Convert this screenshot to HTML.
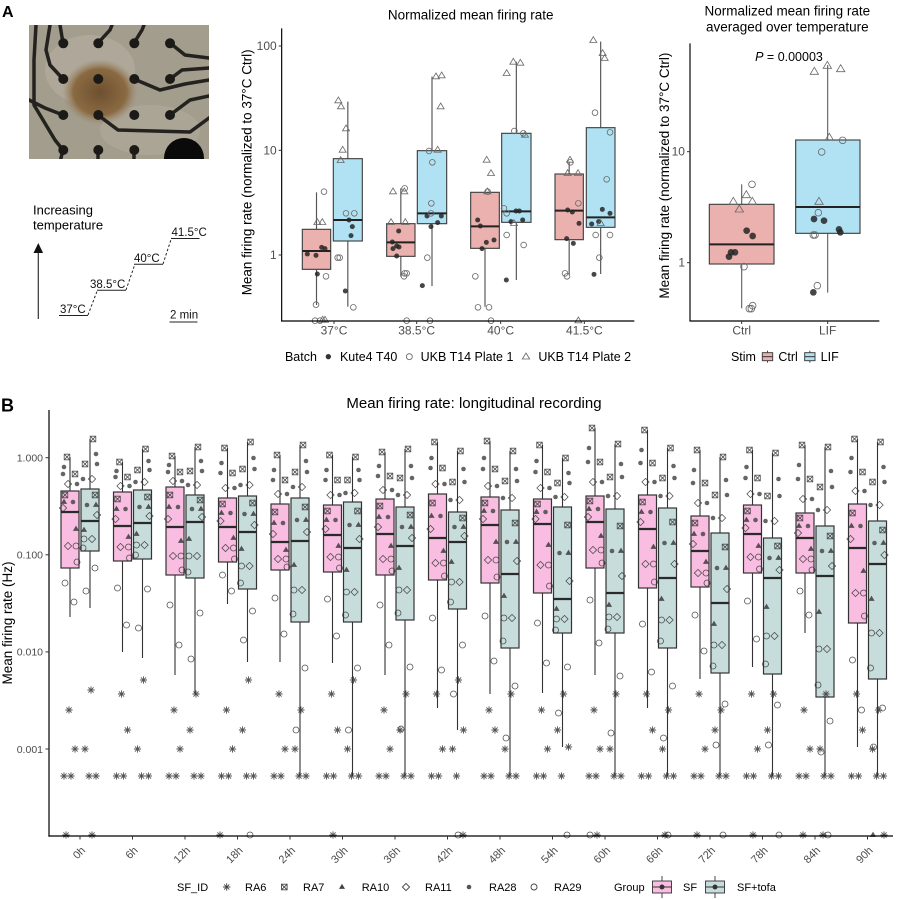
<!DOCTYPE html>
<html><head><meta charset="utf-8">
<style>
html,body{margin:0;padding:0;background:#fff;}
svg{display:block;}
text{font-family:"Liberation Sans",Arial,sans-serif;}
</style></head><body>
<svg width="900" height="900" viewBox="0 0 900 900" xmlns="http://www.w3.org/2000/svg" xmlns:xlink="http://www.w3.org/1999/xlink">
<defs>
 <clipPath id="ph"><rect x="29" y="25" width="180" height="134"/></clipPath>
 <radialGradient id="blob" cx="0.5" cy="0.5" r="0.5">
  <stop offset="0" stop-color="#6e5030"/><stop offset="0.7" stop-color="#8a6a42"/><stop offset="1" stop-color="#9c8a6c" stop-opacity="0"/>
 </radialGradient>
 <path id="ta" d="M0,-11L10.5,6.5L-10.5,6.5Z" fill="none" stroke="#6a6a6a" stroke-width="2.5"/>
 <circle id="oa" r="8.5" fill="none" stroke="#6a6a6a" stroke-width="2.5"/>
 <circle id="fa" r="7.5" fill="#262626" fill-opacity="0.85"/>
 <path id="tb" d="M0,-13L12.5,8L-12.5,8Z" fill="none" stroke="#6a6a6a" stroke-width="2.5"/>
 <circle id="ob" r="10" fill="none" stroke="#6a6a6a" stroke-width="2.5"/>
 <circle id="fb" r="10" fill="#262626" fill-opacity="0.85"/>
 <path id="a" d="M-3.6,0h7.2M0,-3.6v7.2M-2.6,-2.6l5.2,5.2M-2.6,2.6l5.2,-5.2" stroke="#333" stroke-width="0.9" fill="none"/>
 <path id="b" d="M-2.8,-2.8h5.6v5.6h-5.6zl5.6,5.6m0,-5.6l-5.6,5.6" stroke="#333" stroke-width="0.8" fill="none"/>
 <path id="c" d="M0,-3.4l3.1,5.3h-6.2z" fill="#3a3a3a"/>
 <path id="d" d="M0,-3.6l3.6,3.6l-3.6,3.6l-3.6,-3.6z" fill="none" stroke="#333" stroke-width="0.8"/>
 <circle id="e" r="2.3" fill="#4a4a4a"/>
 <circle id="f" r="3" fill="none" stroke="#333" stroke-width="0.8"/>
</defs>

<!-- Panel labels -->
<text x="2" y="17" font-size="16" font-weight="bold">A</text>
<text x="1" y="411.5" font-size="18" font-weight="bold">B</text>

<!-- Photo -->
<g clip-path="url(#ph)">
 <rect x="29" y="25" width="180" height="134" fill="#a39d8e"/>
 <ellipse cx="90" cy="70" rx="45" ry="35" fill="#b3ad9f" opacity="0.7"/>
 <ellipse cx="150" cy="130" rx="50" ry="25" fill="#b0aa9b" opacity="0.6"/>
 <ellipse cx="100" cy="92" rx="38" ry="33" fill="url(#blob)"/>
 <g fill="none" stroke="#24221e" stroke-width="3.5" stroke-linecap="round" stroke-linejoin="round">
  <path d="M36,25 L34,60 L34,105 L55,140 L63,150"/>
  <path d="M50,25 L46,50 L50,65 L63,79"/>
  <path d="M63,43 L60,25"/>
  <path d="M98,43 L110,30 L112,25"/>
  <path d="M134,43 L142,30 L144,25"/>
  <path d="M170,43 L185,55 L209,58"/>
  <path d="M170,79 L182,70 L209,68"/>
  <path d="M134,79 L160,90 L185,84 L209,80"/>
  <path d="M170,115 L190,100 L209,96"/>
  <path d="M98,115 L118,130 L190,132 L209,118"/>
  <path d="M63,115 L45,108 L29,100"/>
  <path d="M98,150 L98,162"/><path d="M134,150 L134,162"/><path d="M63,150 L60,162"/>
 </g>
 <g fill="#1c1a17">
  <circle cx="63.3" cy="43.3" r="5"/><circle cx="98.3" cy="43.3" r="5"/><circle cx="134.3" cy="43.3" r="5"/><circle cx="170" cy="43.3" r="5"/>
  <circle cx="63.3" cy="79" r="5"/><circle cx="98.3" cy="79" r="5"/><circle cx="134.3" cy="79" r="5"/><circle cx="170" cy="79" r="5"/>
  <circle cx="63.3" cy="115" r="5"/><circle cx="98.3" cy="115" r="5"/><circle cx="134.3" cy="115" r="5"/><circle cx="170" cy="115" r="5"/>
  <circle cx="63.3" cy="150" r="5"/><circle cx="98.3" cy="150" r="5"/><circle cx="134.3" cy="150" r="5"/>
  <circle cx="184" cy="158" r="20" fill="#0a0a0a"/>
 </g>
</g>

<!-- Temperature diagram -->
<text x="33" y="214.5" font-size="13">Increasing</text>
<text x="33" y="229.3" font-size="13">temperature</text>
<line x1="38.3" y1="319" x2="38.3" y2="252" stroke="#333" stroke-width="1.2"/>
<polygon points="38.3,243 33.5,253 43.1,253" fill="#111"/>
<g font-size="11.5" fill="#111">
 <text x="60" y="313">37°C</text>
 <text x="90" y="288">38.5°C</text>
 <text x="134" y="262">40°C</text>
 <text x="171.5" y="236">41.5°C</text>
 <text x="170" y="318.5">2 min</text>
</g>
<g stroke="#222" stroke-width="1">
 <line x1="59" y1="315.5" x2="88" y2="315.5"/>
 <line x1="97" y1="290.3" x2="126" y2="290.3"/>
 <line x1="134" y1="264.3" x2="163" y2="264.3"/>
 <line x1="171" y1="238.5" x2="199.5" y2="238.5"/>
 <line x1="169.5" y1="322" x2="197.5" y2="322"/>
 <g stroke-dasharray="2.5,2">
  <line x1="88" y1="315" x2="97.5" y2="290"/>
  <line x1="126" y1="290" x2="135" y2="264"/>
  <line x1="163" y1="264" x2="171.5" y2="238"/>
 </g>
</g>

<!-- Panel A middle chart (zoom coords) -->
<g transform="translate(230,0) scale(0.333333)">
 <text x="722" y="58" font-size="40.5" text-anchor="middle">Normalized mean firing rate</text>
 <text transform="translate(65,517) rotate(-90)" font-size="40.5" text-anchor="middle">Mean firing rate  (normalized to 37°C Ctrl)</text>
 <g stroke="#444" stroke-width="3.5">
  <line x1="259.5" y1="577" x2="259.5" y2="915" stroke="#555"/>
  <rect x="217" y="688" width="85" height="120" fill="#ebb1ae"/>
  <line x1="217" y1="753" x2="302" y2="753" stroke="#222" stroke-width="6"/>
  <line x1="353.5" y1="305" x2="353.5" y2="920" stroke="#555"/>
  <rect x="310" y="476" width="87" height="247" fill="#b0e2f4"/>
  <line x1="310" y1="660" x2="397" y2="660" stroke="#222" stroke-width="6"/>
  <line x1="512.5" y1="565" x2="512.5" y2="830" stroke="#555"/>
  <rect x="470" y="671" width="85" height="98" fill="#ebb1ae"/>
  <line x1="470" y1="727" x2="555" y2="727" stroke="#222" stroke-width="6"/>
  <line x1="606" y1="230" x2="606" y2="858" stroke="#555"/>
  <rect x="562" y="452" width="88" height="219" fill="#b0e2f4"/>
  <line x1="562" y1="640" x2="650" y2="640" stroke="#222" stroke-width="6"/>
  <line x1="765" y1="572" x2="765" y2="920" stroke="#555"/>
  <rect x="722" y="577" width="86" height="168" fill="#ebb1ae"/>
  <line x1="722" y1="679" x2="808" y2="679" stroke="#222" stroke-width="6"/>
  <line x1="859" y1="185" x2="859" y2="840" stroke="#555"/>
  <rect x="815" y="400" width="88" height="267" fill="#b0e2f4"/>
  <line x1="815" y1="634" x2="903" y2="634" stroke="#222" stroke-width="6"/>
  <line x1="1017.5" y1="485" x2="1017.5" y2="825" stroke="#555"/>
  <rect x="975" y="522" width="85" height="197" fill="#ebb1ae"/>
  <line x1="975" y1="632" x2="1060" y2="632" stroke="#222" stroke-width="6"/>
  <line x1="1112" y1="125" x2="1112" y2="822" stroke="#555"/>
  <rect x="1069" y="383" width="86" height="299" fill="#b0e2f4"/>
  <line x1="1069" y1="652" x2="1155" y2="652" stroke="#222" stroke-width="6"/>
 </g>
 <g>
  <use href="#fa" x="232" y="762"/><use href="#fa" x="258" y="766"/><use href="#fa" x="275" y="742"/><use href="#fa" x="285" y="746"/><use href="#fa" x="262" y="822"/><use href="#fa" x="346" y="873"/><use href="#fa" x="357" y="660"/><use href="#fa" x="367" y="680"/><use href="#fa" x="363" y="707"/>
  <use href="#oa" x="282" y="575"/><use href="#oa" x="258" y="914"/><use href="#oa" x="288" y="829"/><use href="#oa" x="255" y="962"/><use href="#oa" x="323" y="773"/><use href="#oa" x="329" y="773"/><use href="#oa" x="348" y="640"/><use href="#oa" x="373" y="640"/><use href="#oa" x="370" y="922"/><use href="#oa" x="270" y="962"/>
  <use href="#ta" x="262" y="667"/><use href="#ta" x="277" y="667"/><use href="#ta" x="278" y="960"/><use href="#ta" x="285" y="960"/><use href="#ta" x="325" y="302"/><use href="#ta" x="333" y="320"/><use href="#ta" x="348" y="386"/><use href="#ta" x="338" y="450"/><use href="#ta" x="332" y="481"/>
  <use href="#fa" x="506" y="693"/><use href="#fa" x="487" y="726"/><use href="#fa" x="500" y="738"/><use href="#fa" x="489" y="746"/><use href="#fa" x="507" y="741"/><use href="#fa" x="500" y="768"/><use href="#fa" x="577" y="857"/><use href="#fa" x="591" y="648"/><use href="#fa" x="603" y="680"/><use href="#fa" x="623" y="668"/><use href="#fa" x="634" y="648"/>
  <use href="#oa" x="524" y="565"/><use href="#oa" x="524" y="820"/><use href="#oa" x="530" y="820"/><use href="#oa" x="522" y="829"/><use href="#oa" x="530" y="962"/><use href="#oa" x="597" y="453"/><use href="#oa" x="607" y="487"/><use href="#oa" x="604" y="610"/><use href="#oa" x="603" y="640"/><use href="#oa" x="592" y="773"/><use href="#oa" x="600" y="962"/>
  <use href="#ta" x="489" y="575"/><use href="#ta" x="523" y="575"/><use href="#ta" x="483" y="667"/><use href="#ta" x="526" y="667"/><use href="#ta" x="618" y="230"/><use href="#ta" x="635" y="227"/><use href="#ta" x="632" y="320"/><use href="#ta" x="623" y="450"/>
  <use href="#fa" x="743" y="660"/><use href="#fa" x="751" y="678"/><use href="#fa" x="756" y="746"/><use href="#fa" x="769" y="727"/><use href="#fa" x="792" y="720"/><use href="#fa" x="829" y="840"/><use href="#fa" x="843" y="665"/><use href="#fa" x="858" y="633"/><use href="#fa" x="868" y="633"/><use href="#fa" x="878" y="660"/>
  <use href="#oa" x="736" y="829"/><use href="#oa" x="744" y="922"/><use href="#oa" x="777" y="922"/><use href="#oa" x="783" y="962"/><use href="#oa" x="773" y="575"/><use href="#oa" x="830" y="640"/><use href="#oa" x="830" y="705"/><use href="#oa" x="822" y="625"/><use href="#oa" x="853" y="393"/><use href="#oa" x="880" y="400"/><use href="#oa" x="881" y="735"/>
  <use href="#ta" x="770" y="480"/><use href="#ta" x="783" y="520"/><use href="#ta" x="772" y="575"/><use href="#ta" x="830" y="220"/><use href="#ta" x="850" y="186"/><use href="#ta" x="871" y="189"/><use href="#ta" x="885" y="405"/><use href="#ta" x="852" y="670"/>
  <use href="#fa" x="1010" y="716"/><use href="#fa" x="1013" y="630"/><use href="#fa" x="1027" y="636"/><use href="#fa" x="1030" y="730"/><use href="#fa" x="1047" y="670"/><use href="#fa" x="1092" y="823"/><use href="#fa" x="1085" y="672"/><use href="#fa" x="1106" y="665"/><use href="#fa" x="1117" y="628"/><use href="#fa" x="1140" y="640"/>
  <use href="#oa" x="1021" y="487"/><use href="#oa" x="1005" y="820"/><use href="#oa" x="1011" y="829"/><use href="#oa" x="1045" y="610"/><use href="#oa" x="1095" y="338"/><use href="#oa" x="1130" y="538"/><use href="#oa" x="1140" y="397"/><use href="#oa" x="1140" y="705"/><use href="#oa" x="1097" y="705"/><use href="#oa" x="1108" y="773"/>
  <use href="#ta" x="1020" y="480"/><use href="#ta" x="1013" y="520"/><use href="#ta" x="1044" y="520"/><use href="#ta" x="1045" y="962"/><use href="#ta" x="1090" y="121"/><use href="#ta" x="1118" y="160"/><use href="#ta" x="1124" y="175"/><use href="#ta" x="1112" y="670"/>
 </g>
 <g stroke="#000" stroke-width="3.5">
  <line x1="155" y1="85" x2="155" y2="964.5"/>
  <line x1="153.5" y1="963" x2="1213" y2="963"/>
 </g>
 <g stroke="#333" stroke-width="3">
  <line x1="146" y1="138" x2="155" y2="138"/><line x1="146" y1="451" x2="155" y2="451"/><line x1="146" y1="765" x2="155" y2="765"/>
  <line x1="312" y1="963" x2="312" y2="972"/><line x1="560" y1="963" x2="560" y2="972"/><line x1="812" y1="963" x2="812" y2="972"/><line x1="1063" y1="963" x2="1063" y2="972"/>
 </g>
 <g font-size="36" fill="#4d4d4d">
  <text x="140" y="150" text-anchor="end">100</text>
  <text x="140" y="463" text-anchor="end">10</text>
  <text x="140" y="777" text-anchor="end">1</text>
  <text x="312" y="1003" text-anchor="middle">37°C</text>
  <text x="560" y="1003" text-anchor="middle">38.5°C</text>
  <text x="812" y="1003" text-anchor="middle">40°C</text>
  <text x="1063" y="1003" text-anchor="middle">41.5°C</text>
 </g>
 <g font-size="37.5">
  <text x="165" y="1083">Batch</text>
  <circle cx="295" cy="1070" r="8" fill="#333"/>
  <text x="330" y="1083">Kute4 T40</text>
  <circle cx="538" cy="1070" r="9" fill="none" stroke="#666" stroke-width="2.5"/>
  <text x="572" y="1083">UKB T14 Plate 1</text>
  <path d="M888,1059L899,1077L877,1077Z" fill="none" stroke="#666" stroke-width="2.5"/>
  <text x="925" y="1083">UKB T14 Plate 2</text>
 </g>
</g>

<!-- Panel A right chart (zoom coords) -->
<g transform="translate(650,0) scale(0.333333)">
 <text x="412" y="46" font-size="40.5" text-anchor="middle">Normalized mean firing rate</text>
 <text x="412" y="94" font-size="40.5" text-anchor="middle">averaged over temperature</text>
 <text x="417" y="183" font-size="37.5" text-anchor="middle"><tspan font-style="italic">P</tspan> = 0.00003</text>
 <text transform="translate(57,527) rotate(-90)" font-size="40.5" text-anchor="middle">Mean firing rate (normalized to 37°C Ctrl)</text>
 <g stroke="#444" stroke-width="3.5">
  <line x1="275" y1="553" x2="275" y2="925" stroke="#666"/>
  <rect x="178" y="613" width="194" height="179" fill="#ebb1ae"/>
  <line x1="178" y1="733" x2="372" y2="733" stroke="#222" stroke-width="6"/>
  <line x1="533" y1="195" x2="533" y2="878" stroke="#666"/>
  <rect x="437" y="420" width="193" height="280" fill="#b0e2f4"/>
  <line x1="437" y1="621" x2="630" y2="621" stroke="#222" stroke-width="6"/>
 </g>
 <g>
  <use href="#fb" x="237" y="770"/><use href="#fb" x="243" y="757"/><use href="#fb" x="255" y="757"/><use href="#fb" x="290" y="692"/><use href="#fb" x="308" y="708"/>
  <use href="#ob" x="306" y="553"/><use href="#ob" x="282" y="800"/><use href="#ob" x="298" y="926"/><use href="#ob" x="308" y="917"/><use href="#ob" x="304" y="926"/>
  <use href="#tb" x="250" y="605"/><use href="#tb" x="268" y="628"/><use href="#tb" x="289" y="585"/><use href="#tb" x="307" y="605"/>
  <use href="#fb" x="490" y="877"/><use href="#fb" x="492" y="657"/><use href="#fb" x="522" y="662"/><use href="#fb" x="567" y="688"/><use href="#fb" x="571" y="697"/>
  <use href="#ob" x="502" y="857"/><use href="#ob" x="515" y="456"/><use href="#ob" x="505" y="638"/><use href="#ob" x="490" y="705"/><use href="#ob" x="495" y="705"/><use href="#ob" x="578" y="421"/>
  <use href="#tb" x="493" y="215"/><use href="#tb" x="532" y="197"/><use href="#tb" x="572" y="207"/><use href="#tb" x="538" y="413"/><use href="#tb" x="507" y="605"/>
 </g>
 <g stroke="#000" stroke-width="3.5">
  <line x1="120" y1="130" x2="120" y2="964.5"/>
  <line x1="118.5" y1="963" x2="688" y2="963"/>
 </g>
 <g stroke="#333" stroke-width="3">
  <line x1="111" y1="455" x2="120" y2="455"/><line x1="111" y1="788" x2="120" y2="788"/>
  <line x1="275" y1="963" x2="275" y2="972"/><line x1="533" y1="963" x2="533" y2="972"/>
 </g>
 <g font-size="36" fill="#4d4d4d">
  <text x="105" y="467" text-anchor="end">10</text>
  <text x="105" y="800" text-anchor="end">1</text>
  <text x="275" y="1003" text-anchor="middle">Ctrl</text>
  <text x="533" y="1003" text-anchor="middle">LIF</text>
 </g>
 <g font-size="37.5">
  <text x="243" y="1083">Stim</text>
  <line x1="352.5" y1="1052" x2="352.5" y2="1088" stroke="#444" stroke-width="3"/>
  <rect x="337" y="1058" width="31" height="24" fill="#ebb1ae" stroke="#444" stroke-width="3"/>
  <line x1="337" y1="1070" x2="368" y2="1070" stroke="#333" stroke-width="3"/>
  <text x="385" y="1083">Ctrl</text>
  <line x1="479.5" y1="1052" x2="479.5" y2="1088" stroke="#444" stroke-width="3"/>
  <rect x="464" y="1058" width="31" height="24" fill="#b0e2f4" stroke="#444" stroke-width="3"/>
  <line x1="464" y1="1070" x2="495" y2="1070" stroke="#333" stroke-width="3"/>
  <text x="512" y="1083">LIF</text>
 </g>
</g>

<!-- Panel B -->
<text x="474" y="408" font-size="15" text-anchor="middle">Mean firing rate: longitudinal recording</text>
<text transform="translate(12,623) rotate(-90)" font-size="13.5" text-anchor="middle">Mean firing rate (Hz)</text>

<!-- whiskers -->
<path stroke="#333" stroke-width="1.1" fill="none" d="M70,457V617M90,439V608M122.5,462V652M142.5,449V658M175,456V675M195,447V694M227.5,448V604M247.5,442V662M280,455V662M300,445V776M332.5,455V663M352.5,457V776M385,452V675M405,449V776M437.5,442V708M457.5,451V730M490,441V694M510,451V776M542.5,445V693M562.5,458V747M595,428V675M615,444V776M647.5,430V708M667.5,448V776M700,450V679M720,457V776M752.5,450V667M772.5,453V776M805,445V633M825,447V776M857.5,439V747M877.5,442V776"/>
<!-- pink boxes -->
<g fill="#f8bde0" stroke="#333" stroke-width="1.2">
 <rect x="61" y="491" width="18" height="77"/>
 <rect x="113.5" y="492" width="18" height="69"/>
 <rect x="166" y="487" width="18" height="88"/>
 <rect x="218.5" y="498" width="18" height="64"/>
 <rect x="271" y="504" width="18" height="66"/>
 <rect x="323.5" y="505" width="18" height="67"/>
 <rect x="376" y="499" width="18" height="76"/>
 <rect x="428.5" y="494" width="18" height="86"/>
 <rect x="481" y="497" width="18" height="86"/>
 <rect x="533.5" y="499" width="18" height="94"/>
 <rect x="586" y="496" width="18" height="72"/>
 <rect x="638.5" y="495" width="18" height="93"/>
 <rect x="691" y="516" width="18" height="71"/>
 <rect x="743.5" y="505" width="18" height="68"/>
 <rect x="796" y="513" width="18" height="60"/>
 <rect x="848.5" y="504" width="18" height="119"/>
</g>
<!-- teal boxes -->
<g fill="#c7dddc" stroke="#333" stroke-width="1.2">
 <rect x="81" y="489" width="18" height="62"/>
 <rect x="133.5" y="490" width="18" height="69"/>
 <rect x="186" y="495" width="18" height="83"/>
 <rect x="238.5" y="496" width="18" height="93"/>
 <rect x="291" y="498" width="18" height="124"/>
 <rect x="343.5" y="502" width="18" height="120"/>
 <rect x="396" y="507" width="18" height="113"/>
 <rect x="448.5" y="512" width="18" height="97"/>
 <rect x="501" y="510" width="18" height="138"/>
 <rect x="553.5" y="507" width="18" height="126"/>
 <rect x="606" y="509" width="18" height="124"/>
 <rect x="658.5" y="508" width="18" height="140"/>
 <rect x="711" y="533" width="18" height="140"/>
 <rect x="763.5" y="538" width="18" height="136"/>
 <rect x="816" y="526" width="18" height="171"/>
 <rect x="868.5" y="521" width="18" height="158"/>
</g>
<!-- medians -->
<path stroke="#2a2a2a" stroke-width="2.2" fill="none" d="M61,512h18M81,521h18M113.5,526h18M133.5,523h18M166,527h18M186,522h18M218.5,527h18M238.5,532h18M271,542h18M291,541h18M323.5,535h18M343.5,548h18M376,534h18M396,546h18M428.5,538h18M448.5,542h18M481,525h18M501,574h18M533.5,524h18M553.5,599h18M586,522h18M606,593h18M638.5,529h18M658.5,578h18M691,551h18M711,603h18M743.5,534h18M763.5,578h18M796,538h18M816,576h18M848.5,548h18M868.5,564h18"/>

<!-- points -->
<g opacity="0.85">
<use href="#b" x="67" y="457"/><use href="#b" x="75" y="474"/><use href="#e" x="64" y="467"/><use href="#e" x="77" y="484"/><use href="#b" x="65" y="495"/><use href="#e" x="73" y="502"/><use href="#d" x="63" y="508"/><use href="#c" x="76" y="529"/><use href="#d" x="68" y="546"/><use href="#f" x="77" y="562"/><use href="#f" x="65" y="583"/><use href="#f" x="74" y="602"/><use href="#a" x="64" y="776"/><use href="#a" x="75" y="749"/><use href="#a" x="69" y="710"/><use href="#e" x="63" y="474"/><use href="#c" x="64" y="502"/><use href="#f" x="76" y="546"/><use href="#d" x="68" y="484"/><use href="#a" x="71" y="776"/>
<use href="#b" x="93" y="439"/><use href="#b" x="85" y="464"/><use href="#e" x="96" y="454"/><use href="#e" x="83" y="479"/><use href="#b" x="95" y="495"/><use href="#e" x="87" y="505"/><use href="#d" x="97" y="515"/><use href="#c" x="84" y="530"/><use href="#d" x="92" y="539"/><use href="#f" x="83" y="548"/><use href="#f" x="95" y="568"/><use href="#f" x="86" y="591"/><use href="#a" x="96" y="776"/><use href="#a" x="85" y="749"/><use href="#a" x="91" y="690"/><use href="#e" x="97" y="464"/><use href="#c" x="96" y="505"/><use href="#f" x="84" y="539"/><use href="#d" x="92" y="479"/><use href="#a" x="89" y="776"/>
<use href="#b" x="119.5" y="462"/><use href="#b" x="127.5" y="477"/><use href="#e" x="116.5" y="471"/><use href="#e" x="129.5" y="486"/><use href="#b" x="117.5" y="499"/><use href="#e" x="125.5" y="509"/><use href="#d" x="115.5" y="519"/><use href="#c" x="128.5" y="537"/><use href="#d" x="120.5" y="547"/><use href="#f" x="129.5" y="558"/><use href="#f" x="117.5" y="588"/><use href="#f" x="126.5" y="625"/><use href="#a" x="116.5" y="776"/><use href="#a" x="127.5" y="730"/><use href="#a" x="121.5" y="694"/><use href="#e" x="115.5" y="477"/><use href="#c" x="116.5" y="509"/><use href="#f" x="128.5" y="547"/><use href="#d" x="120.5" y="486"/><use href="#a" x="123.5" y="776"/>
<use href="#b" x="145.5" y="449"/><use href="#b" x="137.5" y="470"/><use href="#e" x="148.5" y="461"/><use href="#e" x="135.5" y="482"/><use href="#b" x="147.5" y="497"/><use href="#e" x="139.5" y="507"/><use href="#d" x="149.5" y="516"/><use href="#c" x="136.5" y="534"/><use href="#d" x="144.5" y="545"/><use href="#f" x="135.5" y="555"/><use href="#f" x="147.5" y="589"/><use href="#f" x="138.5" y="628"/><use href="#a" x="148.5" y="776"/><use href="#a" x="137.5" y="749"/><use href="#a" x="143.5" y="680"/><use href="#e" x="149.5" y="470"/><use href="#c" x="148.5" y="507"/><use href="#f" x="136.5" y="545"/><use href="#d" x="144.5" y="482"/><use href="#a" x="141.5" y="776"/>
<use href="#b" x="172" y="456"/><use href="#b" x="180" y="472"/><use href="#e" x="169" y="465"/><use href="#e" x="182" y="481"/><use href="#b" x="170" y="495"/><use href="#e" x="178" y="507"/><use href="#d" x="168" y="519"/><use href="#c" x="181" y="541"/><use href="#d" x="173" y="556"/><use href="#f" x="182" y="570"/><use href="#f" x="170" y="605"/><use href="#f" x="179" y="645"/><use href="#a" x="169" y="776"/><use href="#a" x="180" y="749"/><use href="#a" x="174" y="710"/><use href="#e" x="168" y="472"/><use href="#c" x="169" y="507"/><use href="#f" x="181" y="556"/><use href="#d" x="173" y="481"/><use href="#a" x="176" y="776"/>
<use href="#b" x="198" y="447"/><use href="#b" x="190" y="471"/><use href="#e" x="201" y="461"/><use href="#e" x="188" y="485"/><use href="#b" x="200" y="500"/><use href="#e" x="192" y="509"/><use href="#d" x="202" y="517"/><use href="#c" x="189" y="539"/><use href="#d" x="197" y="556"/><use href="#f" x="188" y="572"/><use href="#f" x="200" y="613"/><use href="#f" x="191" y="659"/><use href="#a" x="201" y="776"/><use href="#a" x="190" y="730"/><use href="#a" x="196" y="694"/><use href="#e" x="202" y="471"/><use href="#c" x="201" y="509"/><use href="#f" x="189" y="556"/><use href="#d" x="197" y="485"/><use href="#a" x="194" y="776"/>
<use href="#b" x="224.5" y="448"/><use href="#b" x="232.5" y="473"/><use href="#e" x="221.5" y="463"/><use href="#e" x="234.5" y="488"/><use href="#b" x="222.5" y="504"/><use href="#e" x="230.5" y="513"/><use href="#d" x="220.5" y="521"/><use href="#c" x="233.5" y="538"/><use href="#d" x="225.5" y="548"/><use href="#f" x="234.5" y="559"/><use href="#f" x="222.5" y="575"/><use href="#f" x="231.5" y="591"/><use href="#a" x="221.5" y="776"/><use href="#a" x="232.5" y="749"/><use href="#a" x="226.5" y="710"/><use href="#e" x="220.5" y="473"/><use href="#c" x="221.5" y="513"/><use href="#f" x="233.5" y="548"/><use href="#d" x="225.5" y="488"/><use href="#a" x="228.5" y="776"/>
<use href="#b" x="250.5" y="442"/><use href="#b" x="242.5" y="469"/><use href="#e" x="253.5" y="458"/><use href="#e" x="240.5" y="485"/><use href="#b" x="252.5" y="503"/><use href="#e" x="244.5" y="514"/><use href="#d" x="254.5" y="525"/><use href="#c" x="241.5" y="549"/><use href="#d" x="249.5" y="566"/><use href="#f" x="240.5" y="583"/><use href="#f" x="252.5" y="611"/><use href="#f" x="243.5" y="640"/><use href="#a" x="253.5" y="776"/><use href="#a" x="242.5" y="730"/><use href="#a" x="248.5" y="680"/><use href="#e" x="254.5" y="469"/><use href="#c" x="253.5" y="514"/><use href="#f" x="241.5" y="566"/><use href="#d" x="249.5" y="485"/><use href="#a" x="246.5" y="776"/>
<use href="#b" x="277" y="455"/><use href="#b" x="285" y="480"/><use href="#e" x="274" y="470"/><use href="#e" x="287" y="494"/><use href="#b" x="275" y="512"/><use href="#e" x="283" y="523"/><use href="#d" x="273" y="534"/><use href="#c" x="286" y="550"/><use href="#d" x="278" y="559"/><use href="#f" x="287" y="567"/><use href="#f" x="275" y="598"/><use href="#f" x="284" y="634"/><use href="#a" x="274" y="776"/><use href="#a" x="285" y="749"/><use href="#a" x="279" y="694"/><use href="#e" x="273" y="480"/><use href="#c" x="274" y="523"/><use href="#f" x="286" y="559"/><use href="#d" x="278" y="494"/><use href="#a" x="281" y="776"/>
<use href="#b" x="303" y="445"/><use href="#b" x="295" y="472"/><use href="#e" x="306" y="461"/><use href="#e" x="293" y="487"/><use href="#b" x="305" y="507"/><use href="#e" x="297" y="520"/><use href="#d" x="307" y="532"/><use href="#c" x="294" y="565"/><use href="#d" x="302" y="590"/><use href="#f" x="293" y="614"/><use href="#f" x="305" y="668"/><use href="#f" x="296" y="730"/><use href="#a" x="306" y="776"/><use href="#a" x="295" y="749"/><use href="#a" x="301" y="710"/><use href="#e" x="307" y="472"/><use href="#c" x="306" y="520"/><use href="#f" x="294" y="590"/><use href="#d" x="302" y="487"/><use href="#a" x="299" y="776"/>
<use href="#b" x="329.5" y="455"/><use href="#b" x="337.5" y="480"/><use href="#e" x="326.5" y="470"/><use href="#e" x="339.5" y="495"/><use href="#b" x="327.5" y="511"/><use href="#e" x="335.5" y="520"/><use href="#d" x="325.5" y="529"/><use href="#c" x="338.5" y="546"/><use href="#d" x="330.5" y="557"/><use href="#f" x="339.5" y="568"/><use href="#f" x="327.5" y="599"/><use href="#f" x="336.5" y="636"/><use href="#a" x="326.5" y="776"/><use href="#a" x="337.5" y="730"/><use href="#a" x="331.5" y="694"/><use href="#e" x="325.5" y="480"/><use href="#c" x="326.5" y="520"/><use href="#f" x="338.5" y="557"/><use href="#d" x="330.5" y="495"/><use href="#a" x="333.5" y="776"/>
<use href="#b" x="355.5" y="457"/><use href="#b" x="347.5" y="480"/><use href="#e" x="358.5" y="470"/><use href="#e" x="345.5" y="493"/><use href="#b" x="357.5" y="511"/><use href="#e" x="349.5" y="525"/><use href="#d" x="359.5" y="539"/><use href="#c" x="346.5" y="570"/><use href="#d" x="354.5" y="592"/><use href="#f" x="345.5" y="615"/><use href="#f" x="357.5" y="668"/><use href="#f" x="348.5" y="730"/><use href="#a" x="358.5" y="776"/><use href="#a" x="347.5" y="749"/><use href="#a" x="353.5" y="680"/><use href="#e" x="359.5" y="480"/><use href="#c" x="358.5" y="525"/><use href="#f" x="346.5" y="592"/><use href="#d" x="354.5" y="493"/><use href="#a" x="351.5" y="776"/>
<use href="#b" x="382" y="452"/><use href="#b" x="390" y="476"/><use href="#e" x="379" y="466"/><use href="#e" x="392" y="490"/><use href="#b" x="380" y="506"/><use href="#e" x="388" y="517"/><use href="#d" x="378" y="527"/><use href="#c" x="391" y="546"/><use href="#d" x="383" y="559"/><use href="#f" x="392" y="571"/><use href="#f" x="380" y="605"/><use href="#f" x="389" y="645"/><use href="#a" x="379" y="776"/><use href="#a" x="390" y="749"/><use href="#a" x="384" y="710"/><use href="#e" x="378" y="476"/><use href="#c" x="379" y="517"/><use href="#f" x="391" y="559"/><use href="#d" x="383" y="490"/><use href="#a" x="386" y="776"/>
<use href="#b" x="408" y="449"/><use href="#b" x="400" y="478"/><use href="#e" x="411" y="466"/><use href="#e" x="398" y="495"/><use href="#b" x="410" y="515"/><use href="#e" x="402" y="527"/><use href="#d" x="412" y="538"/><use href="#c" x="399" y="568"/><use href="#d" x="407" y="590"/><use href="#f" x="398" y="613"/><use href="#f" x="410" y="667"/><use href="#f" x="401" y="729"/><use href="#a" x="411" y="776"/><use href="#a" x="400" y="730"/><use href="#a" x="406" y="694"/><use href="#e" x="412" y="478"/><use href="#c" x="411" y="527"/><use href="#f" x="399" y="590"/><use href="#d" x="407" y="495"/><use href="#a" x="404" y="776"/>
<use href="#b" x="434.5" y="442"/><use href="#b" x="442.5" y="468"/><use href="#e" x="431.5" y="458"/><use href="#e" x="444.5" y="484"/><use href="#b" x="432.5" y="503"/><use href="#e" x="440.5" y="516"/><use href="#d" x="430.5" y="529"/><use href="#c" x="443.5" y="551"/><use href="#d" x="435.5" y="563"/><use href="#f" x="444.5" y="576"/><use href="#f" x="432.5" y="618"/><use href="#f" x="441.5" y="670"/><use href="#a" x="431.5" y="776"/><use href="#a" x="442.5" y="749"/><use href="#a" x="436.5" y="694"/><use href="#e" x="430.5" y="468"/><use href="#c" x="431.5" y="516"/><use href="#f" x="443.5" y="563"/><use href="#d" x="435.5" y="484"/><use href="#a" x="438.5" y="776"/>
<use href="#b" x="460.5" y="451"/><use href="#b" x="452.5" y="482"/><use href="#e" x="463.5" y="469"/><use href="#e" x="450.5" y="500"/><use href="#b" x="462.5" y="518"/><use href="#e" x="454.5" y="527"/><use href="#d" x="464.5" y="536"/><use href="#c" x="451.5" y="562"/><use href="#d" x="459.5" y="582"/><use href="#f" x="450.5" y="602"/><use href="#f" x="462.5" y="645"/><use href="#f" x="453.5" y="694"/><use href="#a" x="463.5" y="730"/><use href="#a" x="452.5" y="749"/><use href="#a" x="458.5" y="680"/><use href="#e" x="464.5" y="482"/><use href="#c" x="463.5" y="527"/><use href="#f" x="451.5" y="582"/><use href="#d" x="459.5" y="500"/><use href="#a" x="456.5" y="776"/>
<use href="#b" x="487" y="441"/><use href="#b" x="495" y="469"/><use href="#e" x="484" y="458"/><use href="#e" x="497" y="486"/><use href="#b" x="485" y="503"/><use href="#e" x="493" y="511"/><use href="#d" x="483" y="519"/><use href="#c" x="496" y="542"/><use href="#d" x="488" y="560"/><use href="#f" x="497" y="577"/><use href="#f" x="485" y="616"/><use href="#f" x="494" y="661"/><use href="#a" x="484" y="776"/><use href="#a" x="495" y="730"/><use href="#a" x="489" y="710"/><use href="#e" x="483" y="469"/><use href="#c" x="484" y="511"/><use href="#f" x="496" y="560"/><use href="#d" x="488" y="486"/><use href="#a" x="491" y="776"/>
<use href="#b" x="513" y="451"/><use href="#b" x="505" y="481"/><use href="#e" x="516" y="469"/><use href="#e" x="503" y="498"/><use href="#b" x="515" y="523"/><use href="#e" x="507" y="542"/><use href="#d" x="517" y="561"/><use href="#c" x="504" y="596"/><use href="#d" x="512" y="618"/><use href="#f" x="503" y="641"/><use href="#f" x="515" y="686"/><use href="#f" x="506" y="738"/><use href="#a" x="516" y="776"/><use href="#a" x="505" y="749"/><use href="#a" x="511" y="694"/><use href="#e" x="517" y="481"/><use href="#c" x="516" y="542"/><use href="#f" x="504" y="618"/><use href="#d" x="512" y="498"/><use href="#a" x="509" y="776"/>
<use href="#b" x="539.5" y="445"/><use href="#b" x="547.5" y="472"/><use href="#e" x="536.5" y="461"/><use href="#e" x="549.5" y="488"/><use href="#b" x="537.5" y="504"/><use href="#e" x="545.5" y="512"/><use href="#d" x="535.5" y="519"/><use href="#c" x="548.5" y="545"/><use href="#d" x="540.5" y="565"/><use href="#f" x="549.5" y="586"/><use href="#f" x="537.5" y="623"/><use href="#f" x="546.5" y="663"/><use href="#a" x="536.5" y="776"/><use href="#a" x="547.5" y="749"/><use href="#a" x="541.5" y="710"/><use href="#e" x="535.5" y="472"/><use href="#c" x="536.5" y="512"/><use href="#f" x="548.5" y="565"/><use href="#d" x="540.5" y="488"/><use href="#a" x="543.5" y="776"/>
<use href="#b" x="565.5" y="458"/><use href="#b" x="557.5" y="483"/><use href="#e" x="568.5" y="473"/><use href="#e" x="555.5" y="497"/><use href="#b" x="567.5" y="525"/><use href="#e" x="559.5" y="553"/><use href="#d" x="569.5" y="581"/><use href="#c" x="556.5" y="609"/><use href="#d" x="564.5" y="619"/><use href="#f" x="555.5" y="630"/><use href="#f" x="567.5" y="667"/><use href="#f" x="558.5" y="713"/><use href="#a" x="568.5" y="747"/><use href="#a" x="557.5" y="730"/><use href="#a" x="563.5" y="694"/><use href="#e" x="569.5" y="483"/><use href="#c" x="568.5" y="553"/><use href="#f" x="556.5" y="619"/><use href="#d" x="564.5" y="497"/><use href="#a" x="561.5" y="776"/>
<use href="#b" x="592" y="428"/><use href="#b" x="600" y="462"/><use href="#e" x="589" y="448"/><use href="#e" x="602" y="482"/><use href="#b" x="590" y="501"/><use href="#e" x="598" y="509"/><use href="#d" x="588" y="517"/><use href="#c" x="601" y="536"/><use href="#d" x="593" y="550"/><use href="#f" x="602" y="563"/><use href="#f" x="590" y="600"/><use href="#f" x="599" y="643"/><use href="#a" x="589" y="776"/><use href="#a" x="600" y="749"/><use href="#a" x="594" y="710"/><use href="#e" x="588" y="462"/><use href="#c" x="589" y="509"/><use href="#f" x="601" y="550"/><use href="#d" x="593" y="482"/><use href="#a" x="596" y="776"/>
<use href="#b" x="618" y="444"/><use href="#b" x="610" y="477"/><use href="#e" x="621" y="464"/><use href="#e" x="608" y="496"/><use href="#b" x="620" y="526"/><use href="#e" x="612" y="551"/><use href="#d" x="622" y="576"/><use href="#c" x="609" y="605"/><use href="#d" x="617" y="617"/><use href="#f" x="608" y="629"/><use href="#f" x="620" y="676"/><use href="#f" x="611" y="733"/><use href="#a" x="621" y="776"/><use href="#a" x="610" y="749"/><use href="#a" x="616" y="694"/><use href="#e" x="622" y="477"/><use href="#c" x="621" y="551"/><use href="#f" x="609" y="617"/><use href="#d" x="617" y="496"/><use href="#a" x="614" y="776"/>
<use href="#b" x="644.5" y="430"/><use href="#b" x="652.5" y="463"/><use href="#e" x="641.5" y="450"/><use href="#e" x="654.5" y="482"/><use href="#b" x="642.5" y="502"/><use href="#e" x="650.5" y="512"/><use href="#d" x="640.5" y="522"/><use href="#c" x="653.5" y="547"/><use href="#d" x="645.5" y="564"/><use href="#f" x="654.5" y="582"/><use href="#f" x="642.5" y="624"/><use href="#f" x="651.5" y="672"/><use href="#a" x="641.5" y="776"/><use href="#a" x="652.5" y="730"/><use href="#a" x="646.5" y="694"/><use href="#e" x="640.5" y="463"/><use href="#c" x="641.5" y="512"/><use href="#f" x="653.5" y="564"/><use href="#d" x="645.5" y="482"/><use href="#a" x="648.5" y="776"/>
<use href="#b" x="670.5" y="448"/><use href="#b" x="662.5" y="478"/><use href="#e" x="673.5" y="466"/><use href="#e" x="660.5" y="496"/><use href="#b" x="672.5" y="522"/><use href="#e" x="664.5" y="543"/><use href="#d" x="674.5" y="564"/><use href="#c" x="661.5" y="599"/><use href="#d" x="669.5" y="620"/><use href="#f" x="660.5" y="641"/><use href="#f" x="672.5" y="686"/><use href="#f" x="663.5" y="738"/><use href="#a" x="673.5" y="776"/><use href="#a" x="662.5" y="749"/><use href="#a" x="668.5" y="710"/><use href="#e" x="674.5" y="478"/><use href="#c" x="673.5" y="543"/><use href="#f" x="661.5" y="620"/><use href="#d" x="669.5" y="496"/><use href="#a" x="666.5" y="776"/>
<use href="#b" x="697" y="450"/><use href="#b" x="705" y="483"/><use href="#e" x="694" y="470"/><use href="#e" x="707" y="503"/><use href="#b" x="695" y="523"/><use href="#e" x="703" y="534"/><use href="#d" x="693" y="544"/><use href="#c" x="706" y="562"/><use href="#d" x="698" y="573"/><use href="#f" x="707" y="583"/><use href="#f" x="695" y="615"/><use href="#f" x="704" y="651"/><use href="#a" x="694" y="776"/><use href="#a" x="705" y="749"/><use href="#a" x="699" y="694"/><use href="#e" x="693" y="483"/><use href="#c" x="694" y="534"/><use href="#f" x="706" y="573"/><use href="#d" x="698" y="503"/><use href="#a" x="701" y="776"/>
<use href="#b" x="723" y="457"/><use href="#b" x="715" y="495"/><use href="#e" x="726" y="480"/><use href="#e" x="713" y="518"/><use href="#b" x="725" y="547"/><use href="#e" x="717" y="568"/><use href="#d" x="727" y="589"/><use href="#c" x="714" y="624"/><use href="#d" x="722" y="645"/><use href="#f" x="713" y="666"/><use href="#f" x="725" y="704"/><use href="#f" x="716" y="745"/><use href="#a" x="726" y="776"/><use href="#a" x="715" y="730"/><use href="#a" x="721" y="710"/><use href="#e" x="727" y="495"/><use href="#c" x="726" y="568"/><use href="#f" x="714" y="645"/><use href="#d" x="722" y="518"/><use href="#a" x="719" y="776"/>
<use href="#b" x="749.5" y="450"/><use href="#b" x="757.5" y="478"/><use href="#e" x="746.5" y="467"/><use href="#e" x="759.5" y="494"/><use href="#b" x="747.5" y="511"/><use href="#e" x="755.5" y="520"/><use href="#d" x="745.5" y="528"/><use href="#c" x="758.5" y="546"/><use href="#d" x="750.5" y="557"/><use href="#f" x="759.5" y="569"/><use href="#f" x="747.5" y="601"/><use href="#f" x="756.5" y="639"/><use href="#a" x="746.5" y="776"/><use href="#a" x="757.5" y="749"/><use href="#a" x="751.5" y="694"/><use href="#e" x="745.5" y="478"/><use href="#c" x="746.5" y="520"/><use href="#f" x="758.5" y="557"/><use href="#d" x="750.5" y="494"/><use href="#a" x="753.5" y="776"/>
<use href="#b" x="775.5" y="453"/><use href="#b" x="767.5" y="496"/><use href="#e" x="778.5" y="479"/><use href="#e" x="765.5" y="521"/><use href="#b" x="777.5" y="546"/><use href="#e" x="769.5" y="558"/><use href="#d" x="779.5" y="570"/><use href="#c" x="766.5" y="607"/><use href="#d" x="774.5" y="636"/><use href="#f" x="765.5" y="664"/><use href="#f" x="777.5" y="705"/><use href="#f" x="768.5" y="745"/><use href="#a" x="778.5" y="776"/><use href="#a" x="767.5" y="730"/><use href="#a" x="773.5" y="694"/><use href="#e" x="779.5" y="496"/><use href="#c" x="778.5" y="558"/><use href="#f" x="766.5" y="636"/><use href="#d" x="774.5" y="521"/><use href="#a" x="771.5" y="776"/>
<use href="#b" x="802" y="445"/><use href="#b" x="810" y="479"/><use href="#e" x="799" y="465"/><use href="#e" x="812" y="499"/><use href="#b" x="800" y="518"/><use href="#e" x="808" y="526"/><use href="#d" x="798" y="533"/><use href="#c" x="811" y="549"/><use href="#d" x="803" y="559"/><use href="#f" x="812" y="570"/><use href="#f" x="800" y="591"/><use href="#f" x="809" y="615"/><use href="#a" x="799" y="776"/><use href="#a" x="810" y="749"/><use href="#a" x="804" y="710"/><use href="#e" x="798" y="479"/><use href="#c" x="799" y="526"/><use href="#f" x="811" y="559"/><use href="#d" x="803" y="499"/><use href="#a" x="806" y="776"/>
<use href="#b" x="828" y="447"/><use href="#b" x="820" y="487"/><use href="#e" x="831" y="471"/><use href="#e" x="818" y="510"/><use href="#b" x="830" y="536"/><use href="#e" x="822" y="551"/><use href="#d" x="832" y="566"/><use href="#c" x="819" y="612"/><use href="#d" x="827" y="649"/><use href="#f" x="818" y="685"/><use href="#f" x="830" y="721"/><use href="#f" x="821" y="752"/><use href="#a" x="831" y="776"/><use href="#a" x="820" y="749"/><use href="#a" x="826" y="694"/><use href="#e" x="832" y="487"/><use href="#c" x="831" y="551"/><use href="#f" x="819" y="649"/><use href="#d" x="827" y="510"/><use href="#a" x="824" y="776"/>
<use href="#b" x="854.5" y="439"/><use href="#b" x="862.5" y="472"/><use href="#e" x="851.5" y="458"/><use href="#e" x="864.5" y="491"/><use href="#b" x="852.5" y="513"/><use href="#e" x="860.5" y="526"/><use href="#d" x="850.5" y="539"/><use href="#c" x="863.5" y="571"/><use href="#d" x="855.5" y="593"/><use href="#f" x="864.5" y="616"/><use href="#f" x="852.5" y="660"/><use href="#f" x="861.5" y="710"/><use href="#a" x="851.5" y="776"/><use href="#a" x="862.5" y="730"/><use href="#a" x="856.5" y="694"/><use href="#e" x="850.5" y="472"/><use href="#c" x="851.5" y="526"/><use href="#f" x="863.5" y="593"/><use href="#d" x="855.5" y="491"/><use href="#a" x="858.5" y="776"/>
<use href="#b" x="880.5" y="442"/><use href="#b" x="872.5" y="482"/><use href="#e" x="883.5" y="467"/><use href="#e" x="870.5" y="505"/><use href="#b" x="882.5" y="530"/><use href="#e" x="874.5" y="543"/><use href="#d" x="884.5" y="555"/><use href="#c" x="871.5" y="599"/><use href="#d" x="879.5" y="633"/><use href="#f" x="870.5" y="668"/><use href="#f" x="882.5" y="708"/><use href="#f" x="873.5" y="747"/><use href="#a" x="883.5" y="776"/><use href="#a" x="872.5" y="749"/><use href="#a" x="878.5" y="710"/><use href="#e" x="884.5" y="482"/><use href="#c" x="883.5" y="543"/><use href="#f" x="871.5" y="633"/><use href="#d" x="879.5" y="505"/><use href="#a" x="876.5" y="776"/>
<use href="#a" x="66" y="835"/><use href="#a" x="92" y="835"/><use href="#a" x="220" y="835"/><use href="#f" x="250" y="835"/><use href="#a" x="333" y="835"/><use href="#f" x="458" y="835"/><use href="#a" x="463" y="835"/><use href="#f" x="567" y="835"/><use href="#f" x="590" y="835"/><use href="#a" x="597" y="835"/><use href="#a" x="665" y="835"/><use href="#f" x="668" y="835"/><use href="#a" x="697" y="835"/><use href="#f" x="723" y="835"/><use href="#a" x="753" y="835"/><use href="#f" x="779" y="835"/><use href="#a" x="803" y="835"/><use href="#a" x="823" y="835"/><use href="#f" x="828" y="835"/><use href="#c" x="873" y="835"/><use href="#a" x="884" y="835"/>
</g>

<g stroke="#000" stroke-width="1.2">
 <line x1="49" y1="410" x2="49" y2="836.6"/>
 <line x1="48.4" y1="836" x2="893" y2="836"/>
</g>
<g stroke="#333" stroke-width="1">
 <line x1="45.5" y1="457.7" x2="49" y2="457.7"/>
 <line x1="45.5" y1="554.8" x2="49" y2="554.8"/>
 <line x1="45.5" y1="651.9" x2="49" y2="651.9"/>
 <line x1="45.5" y1="749" x2="49" y2="749"/>
</g>
<path stroke="#333" stroke-width="1" fill="none" d="M80,836v3.5M132.5,836v3.5M185,836v3.5M237.5,836v3.5M290,836v3.5M342.5,836v3.5M395,836v3.5M447.5,836v3.5M500,836v3.5M552.5,836v3.5M605,836v3.5M657.5,836v3.5M710,836v3.5M762.5,836v3.5M815,836v3.5M867.5,836v3.5"/>
<g font-size="10.5" fill="#4d4d4d" text-anchor="end">
 <text x="43" y="461.5">1.000</text>
 <text x="43" y="558.6">0.100</text>
 <text x="43" y="655.7">0.010</text>
 <text x="43" y="752.8">0.001</text>
</g>
<g font-size="11" fill="#4d4d4d" text-anchor="end">
 <text transform="translate(86,851) rotate(-45)">0h</text>
 <text transform="translate(138.5,851) rotate(-45)">6h</text>
 <text transform="translate(191,851) rotate(-45)">12h</text>
 <text transform="translate(243.5,851) rotate(-45)">18h</text>
 <text transform="translate(296,851) rotate(-45)">24h</text>
 <text transform="translate(348.5,851) rotate(-45)">30h</text>
 <text transform="translate(401,851) rotate(-45)">36h</text>
 <text transform="translate(453.5,851) rotate(-45)">42h</text>
 <text transform="translate(506,851) rotate(-45)">48h</text>
 <text transform="translate(558.5,851) rotate(-45)">54h</text>
 <text transform="translate(611,851) rotate(-45)">60h</text>
 <text transform="translate(663.5,851) rotate(-45)">66h</text>
 <text transform="translate(716,851) rotate(-45)">72h</text>
 <text transform="translate(768.5,851) rotate(-45)">78h</text>
 <text transform="translate(821,851) rotate(-45)">84h</text>
 <text transform="translate(873.5,851) rotate(-45)">90h</text>
</g>
<!-- B legend -->
<g font-size="11" fill="#000">
 <text x="177" y="891">SF_ID</text>
 <text x="245" y="891">RA6</text>
 <text x="303" y="891">RA7</text>
 <text x="361.7" y="891">RA10</text>
 <text x="425" y="891">RA11</text>
 <text x="489" y="891">RA28</text>
 <text x="554" y="891">RA29</text>
 <text x="614" y="891">Group</text>
 <text x="683" y="891">SF</text>
 <text x="737" y="891">SF+tofa</text>
</g>
<g stroke="#444" fill="none" stroke-width="0.9">
 <path d="M223,887h7.4M226.7,883.3v7.4M224.1,884.4l5.2,5.2M224.1,889.6l5.2,-5.2"/>
 <path d="M281.5,884.2h5.6v5.6h-5.6zl5.6,5.6m0,-5.6l-5.6,5.6"/>
 <path d="M342,883.7l3,5.2h-6z" fill="#444" stroke="none"/>
 <path d="M406,883.4l3.6,3.6l-3.6,3.6l-3.6,-3.6z"/>
 <circle cx="469" cy="887" r="2.3" fill="#555" stroke="none"/>
 <circle cx="534" cy="887" r="3"/>
 <line x1="662" y1="876" x2="662" y2="898" stroke="#333"/>
 <rect x="652.5" y="881" width="19" height="12" fill="#f8bde0" stroke="#333"/>
 <line x1="652.5" y1="887" x2="671.5" y2="887" stroke="#333"/>
 <circle cx="662" cy="887" r="2.5" fill="#333" stroke="none"/>
 <line x1="715" y1="876" x2="715" y2="898" stroke="#333"/>
 <rect x="705.5" y="881" width="19" height="12" fill="#c7dddc" stroke="#333"/>
 <line x1="705.5" y1="887" x2="724.5" y2="887" stroke="#333"/>
 <circle cx="715" cy="887" r="2.5" fill="#333" stroke="none"/>
</g>
</svg>
</body></html>
